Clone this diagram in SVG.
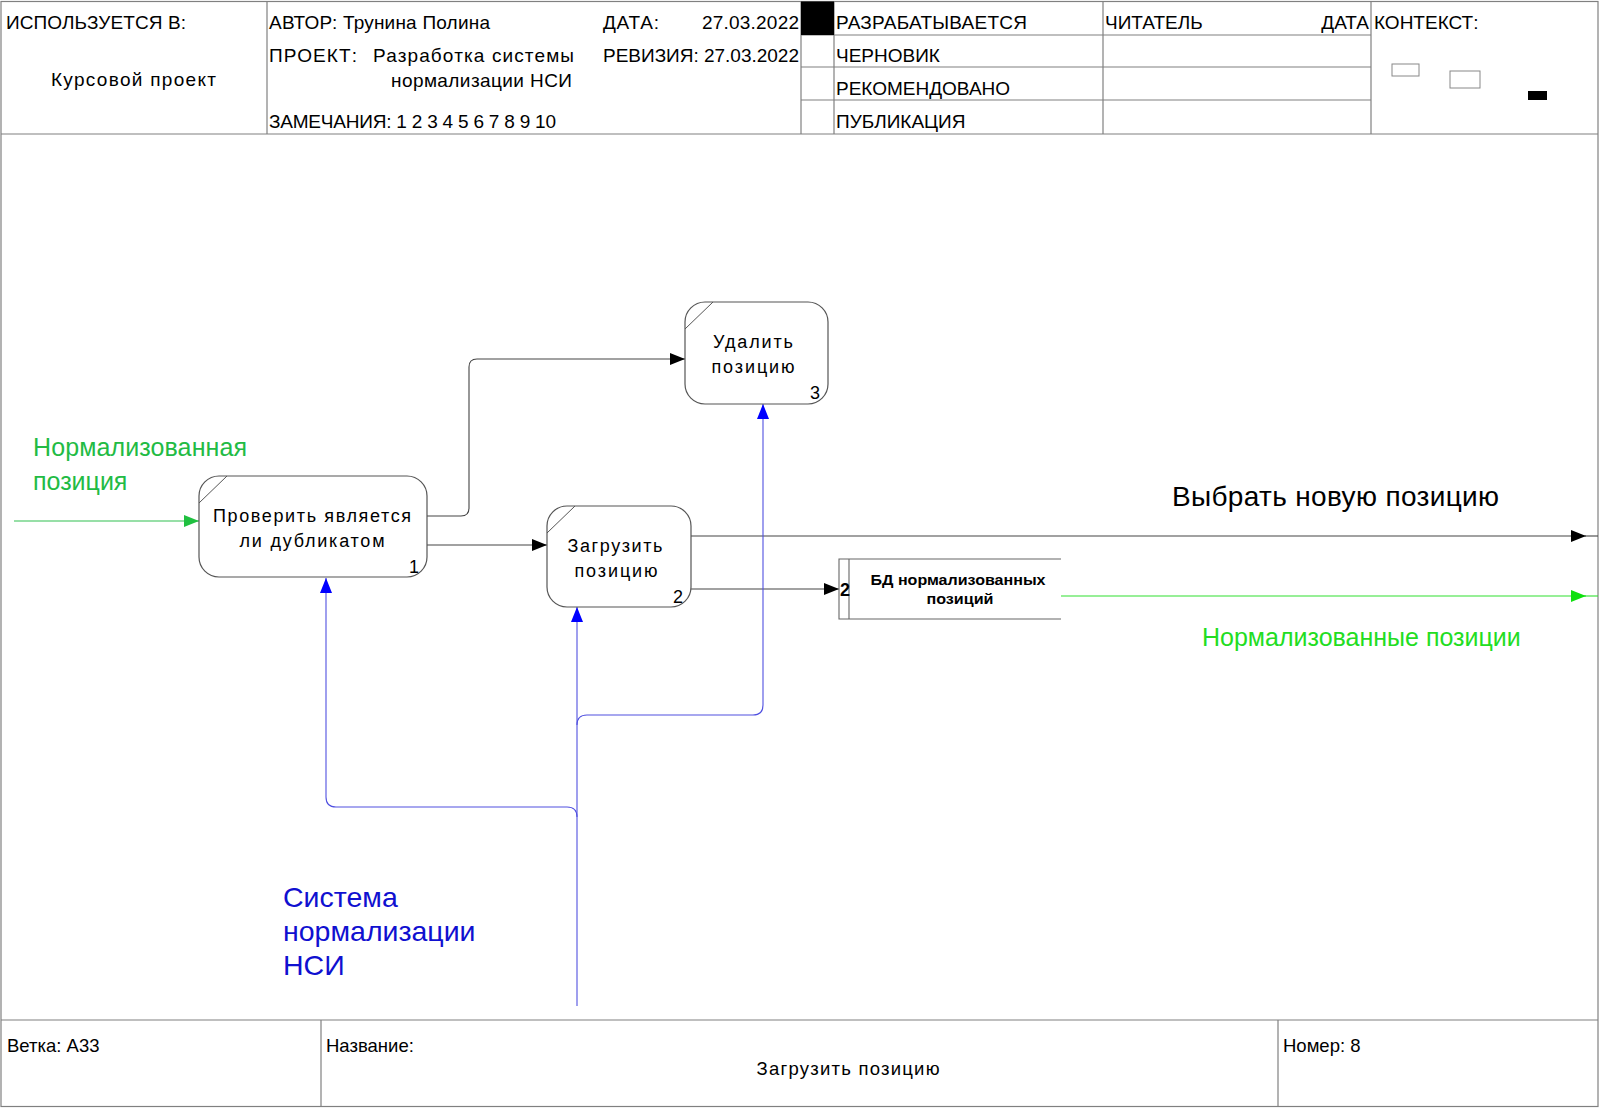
<svg xmlns="http://www.w3.org/2000/svg" width="1600" height="1108" viewBox="0 0 1600 1108">
<style>
.frame{fill:none;stroke:#808080;stroke-width:1.2}
.ht{font-family:"Liberation Sans",Arial,sans-serif;font-size:19px;fill:#000}
.ft{font-family:"Liberation Sans",Arial,sans-serif;font-size:18.5px;fill:#000}
.node{fill:#fff;stroke:#555;stroke-width:1.2}
.nt{font-family:"Liberation Sans",Arial,sans-serif;font-size:18px;fill:#000;text-anchor:middle}
.num{font-family:"Liberation Sans",Arial,sans-serif;font-size:18px;fill:#000}
.st{font-family:"Liberation Sans",Arial,sans-serif;font-size:15px;font-weight:bold;fill:#000;text-anchor:middle}
.blk{fill:none;stroke:#444;stroke-width:1.1}
.blu{fill:none;stroke:#5050e0;stroke-width:1.1}
.grn{fill:none;stroke:#30c050;stroke-width:1.1}
.grn2{fill:none;stroke:#30e030;stroke-width:1.1}
.lbl{font-family:"Liberation Sans",Arial,sans-serif}
</style>
<defs>
<marker id="ab" markerUnits="userSpaceOnUse" markerWidth="16" markerHeight="12" refX="15" refY="6" orient="auto"><path d="M0,0 L15,6 L0,12 z" fill="#000"/></marker>
<marker id="au" markerUnits="userSpaceOnUse" markerWidth="16" markerHeight="12" refX="15" refY="6" orient="auto"><path d="M0,0 L15,6 L0,12 z" fill="#0000ff"/></marker>
<marker id="ag" markerUnits="userSpaceOnUse" markerWidth="16" markerHeight="12" refX="15" refY="6" orient="auto"><path d="M0,0 L15,6 L0,12 z" fill="#20c040"/></marker>
<marker id="ag2" markerUnits="userSpaceOnUse" markerWidth="16" markerHeight="12" refX="15" refY="6" orient="auto"><path d="M0,0 L15,6 L0,12 z" fill="#10e010"/></marker>
</defs>
<rect x="0" y="0" width="1600" height="1108" fill="#fff"/>
<g id="header">
<rect class="frame" x="1" y="1.5" width="1597" height="1105"/>
<line class="frame" x1="1" y1="134" x2="1598" y2="134"/>
<line class="frame" x1="267" y1="1.5" x2="267" y2="134"/>
<line class="frame" x1="801" y1="1.5" x2="801" y2="134"/>
<line class="frame" x1="834" y1="1.5" x2="834" y2="134"/>
<line class="frame" x1="1103" y1="1.5" x2="1103" y2="134"/>
<line class="frame" x1="1371" y1="1.5" x2="1371" y2="134"/>
<line class="frame" x1="801" y1="35" x2="1371" y2="35"/>
<line class="frame" x1="801" y1="67" x2="1371" y2="67"/>
<line class="frame" x1="801" y1="100" x2="1371" y2="100"/>
<rect x="801" y="1.5" width="33" height="33.5" fill="#000"/>
<rect x="1392" y="64" width="27" height="12" fill="#fff" stroke="#888" stroke-width="1"/>
<rect x="1450" y="71" width="30" height="17" fill="#fff" stroke="#888" stroke-width="1"/>
<rect x="1528" y="91" width="19" height="9" fill="#000"/>
<text class="ht" x="6" y="29" textLength="180">ИСПОЛЬЗУЕТСЯ В:</text>
<text class="ht" x="51" y="86" textLength="165">Курсовой проект</text>
<text class="ht" x="269" y="29" textLength="221">АВТОР: Трунина Полина</text>
<text class="ht" x="603" y="29" textLength="56">ДАТА:</text>
<text class="ht" x="702" y="29" textLength="97">27.03.2022</text>
<text class="ht" x="269" y="62" textLength="88">ПРОЕКТ:</text>
<text class="ht" x="373" y="62" textLength="201">Разработка системы</text>
<text class="ht" x="391" y="87" textLength="181">нормализации НСИ</text>
<text class="ht" x="603" y="62" textLength="196">РЕВИЗИЯ: 27.03.2022</text>
<text class="ht" x="269" y="128" textLength="287">ЗАМЕЧАНИЯ: 1 2 3 4 5 6 7 8 9 10</text>
<text class="ht" x="836" y="29" textLength="191">РАЗРАБАТЫВАЕТСЯ</text>
<text class="ht" x="836" y="62">ЧЕРНОВИК</text>
<text class="ht" x="836" y="95">РЕКОМЕНДОВАНО</text>
<text class="ht" x="836" y="128">ПУБЛИКАЦИЯ</text>
<text class="ht" x="1105" y="29">ЧИТАТЕЛЬ</text>
<text class="ht" x="1369" y="29" text-anchor="end">ДАТА</text>
<text class="ht" x="1374" y="29">КОНТЕКСТ:</text>
</g>
<g id="footer">
<line class="frame" x1="1" y1="1020" x2="1598" y2="1020"/>
<line class="frame" x1="321" y1="1020" x2="321" y2="1107"/>
<line class="frame" x1="1278" y1="1020" x2="1278" y2="1107"/>
<text class="ft" x="7" y="1052">Ветка: А33</text>
<text class="ft" x="326" y="1052">Название:</text>
<text class="ft" x="848" y="1075" text-anchor="middle" textLength="183">Загрузить позицию</text>
<text class="ft" x="1283" y="1052">Номер: 8</text>
</g>
<g id="connectors">
<path class="grn" d="M14,521 H199" marker-end="url(#ag)"/>
<path class="blk" d="M427,516 H461 Q469,516 469,508 V367 Q469,359 477,359 H685" marker-end="url(#ab)"/>
<path class="blk" d="M427,545 H547" marker-end="url(#ab)"/>
<path class="blk" d="M691,536 H1586" marker-end="url(#ab)"/>
<line class="blk" x1="1584" y1="536" x2="1598" y2="536"/>
<path class="blk" d="M691,589 H839" marker-end="url(#ab)"/>
<path class="grn2" d="M1061,596 H1586" marker-end="url(#ag2)"/>
<line class="grn2" x1="1584" y1="596" x2="1598" y2="596"/>
<path class="blu" d="M577,1006 V607" marker-end="url(#au)"/>
<path class="blu" d="M577,817 Q577,807 567,807 H336 Q326,807 326,797 V578" marker-end="url(#au)"/>
<path class="blu" d="M577,725 Q577,715 587,715 H753 Q763,715 763,705 V404" marker-end="url(#au)"/>
</g>
<g id="node1">
<rect class="node" x="199" y="476" width="228" height="101" rx="20" ry="20"/>
<line x1="199" y1="503" x2="227" y2="476" stroke="#555" stroke-width="1"/>
<text class="nt" x="312" y="522" textLength="198">Проверить является</text>
<text class="nt" x="312" y="547" textLength="145">ли дубликатом</text>
<text class="num" x="409" y="573">1</text>
</g>
<g id="node2">
<rect class="node" x="547" y="506" width="144" height="101" rx="20" ry="20"/>
<line x1="547" y1="533" x2="575" y2="506" stroke="#555" stroke-width="1"/>
<text class="nt" x="615" y="552" textLength="95">Загрузить</text>
<text class="nt" x="616" y="577" textLength="83">позицию</text>
<text class="num" x="673" y="603">2</text>
</g>
<g id="node3">
<rect class="node" x="685" y="302" width="143" height="102" rx="20" ry="20"/>
<line x1="685" y1="329" x2="713" y2="302" stroke="#555" stroke-width="1"/>
<text class="nt" x="753" y="348" textLength="80">Удалить</text>
<text class="nt" x="753" y="373" textLength="83">позицию</text>
<text class="num" x="810" y="399">3</text>
</g>
<g id="store">
<path d="M1061,559 H839 V619 H1061 M849,559 V619" fill="none" stroke="#666" stroke-width="1.1"/>
<text class="num" x="840" y="596" font-size="15" font-weight="bold">2</text>
<text class="st" x="958" y="585" textLength="175" lengthAdjust="spacingAndGlyphs">БД нормализованных</text>
<text class="st" x="960" y="604" textLength="67" lengthAdjust="spacingAndGlyphs">позиций</text>
</g>
<g id="labels">
<text class="lbl" x="33" y="456" font-size="25" fill="#22bb44" textLength="214">Нормализованная</text>
<text class="lbl" x="33" y="490" font-size="25" fill="#22bb44">позиция</text>
<text class="lbl" x="1172" y="506" font-size="28" fill="#000" textLength="327">Выбрать новую позицию</text>
<text class="lbl" x="1202" y="646" font-size="25" fill="#22dd22">Нормализованные позиции</text>
<text class="lbl" x="283" y="907" font-size="28.5" fill="#1010d0">Система</text>
<text class="lbl" x="283" y="941" font-size="28.5" fill="#1010d0">нормализации</text>
<text class="lbl" x="283" y="975" font-size="28.5" fill="#1010d0">НСИ</text>
</g>
</svg>
